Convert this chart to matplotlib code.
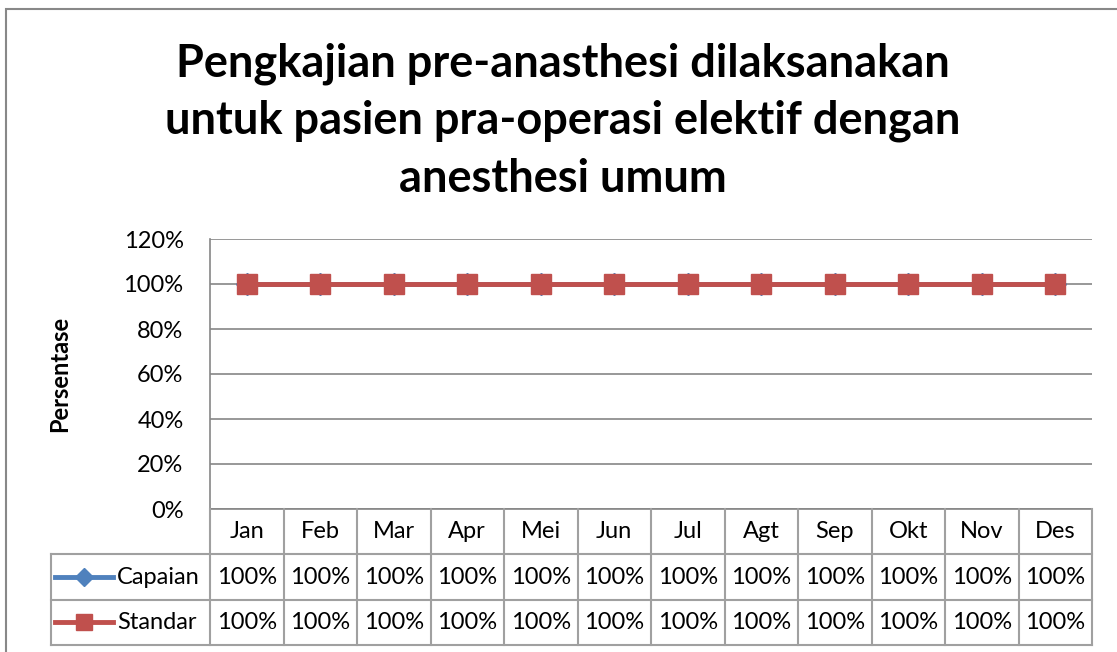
import matplotlib
matplotlib.use("Agg")
import matplotlib.pyplot as plt
import numpy as np

months = ["Jan", "Feb", "Mar", "Apr", "Mei", "Jun", "Jul", "Agt", "Sep", "Okt", "Nov", "Des"]
capaian = [100, 100, 100, 100, 100, 100, 100, 100, 100, 100, 100, 100]
standar = [100, 100, 100, 100, 100, 100, 100, 100, 100, 100, 100, 100]
yticks = [0, 20, 40, 60, 80, 100, 120]
title = "Pengkajian pre-anasthesi dilaksanakan\nuntuk pasien pra-operasi elektif dengan\nanesthesi umum"

BLUE = "#4f81bd"
RED = "#c0504d"
GRID = "#868686"
TBL = "#a0a0a0"

plt.rcParams["font.family"] = ["Lato", "DejaVu Sans"]
W, H = 1117, 652
fig = plt.figure(figsize=(W / 100, H / 100), dpi=100)


def box(x0, y0, x1, y1):
    # pixel box (top-left origin) -> figure fraction rect
    return [x0 / W, 1 - y1 / H, (x1 - x0) / W, (y1 - y0) / H]


# outer chart border
fig.add_artist(plt.Rectangle((6 / W, -0.05), 1.2, (H - 9) / H + 0.05, transform=fig.transFigure,
                             fill=False, edgecolor="#888888", lw=1.5))

fig.text(563 / W, 1 - 121 / H, title, ha="center", va="center", fontsize=32.5,
         fontweight="bold", linespacing=1.45)

FS = 17
ax = fig.add_axes(box(210, 239, 1092, 509))
x = np.arange(len(months)) + 0.5
ax.plot(x, capaian, color=BLUE, lw=3.5, marker="D", ms=11, zorder=3)
ax.plot(x, standar, color=RED, lw=3.5, marker="s", ms=14, zorder=4)
ax.set_xlim(0, len(months))
ax.set_ylim(0, 120)
ax.set_yticks(yticks)
ax.set_yticklabels([f"{v}%" for v in yticks], fontsize=FS)
ax.yaxis.grid(True, color=GRID, lw=1.2)
ax.set_axisbelow(True)
ax.set_xticks([])
ax.tick_params(axis="y", length=0, pad=19)
for s in ["top", "right"]:
    ax.spines[s].set_visible(False)
ax.spines["left"].set_color(GRID)
ax.spines["bottom"].set_color(GRID)
ax.spines["left"].set_linewidth(1.2)
ax.spines["bottom"].set_linewidth(1.2)
ax.set_ylabel("Persentase", fontsize=FS, fontweight="bold", labelpad=38)

# data table below the plot, sharing the month columns
lw_col = (210 - 51) / ((1092 - 210) / len(months))
tx = fig.add_axes(box(51, 509, 1092, 645))
tx.set_xlim(-lw_col, len(months))
tx.set_ylim(0, 3)
tx.axis("off")
kw = dict(color=TBL, lw=1.5, clip_on=False)
for i in range(len(months) + 1):
    tx.plot([i, i], [0, 3], **kw)
tx.plot([-lw_col, -lw_col], [0, 2], **kw)
for yy in [0, 1, 2]:
    tx.plot([-lw_col, len(months)], [yy, yy], **kw)
for i, m in enumerate(months):
    tx.text(i + 0.5, 2.5, m, ha="center", va="center", fontsize=FS)
    tx.text(i + 0.5, 1.5, f"{capaian[i]}%", ha="center", va="center", fontsize=FS)
    tx.text(i + 0.5, 0.5, f"{standar[i]}%", ha="center", va="center", fontsize=FS)
rows = [("Capaian", BLUE, "D", 9, 1.5), ("Standar", RED, "s", 12, 0.5)]
for name, c, mk, ms, yy in rows:
    tx.plot([-lw_col + 0.06, -lw_col + 0.84], [yy, yy], color=c, lw=3.5, clip_on=False)
    tx.plot([-lw_col + 0.45], [yy], color=c, marker=mk, ms=ms, clip_on=False)
    tx.text(-lw_col + 0.9, yy, name, ha="left", va="center", fontsize=FS)

fig.savefig("out.png", dpi=100)
